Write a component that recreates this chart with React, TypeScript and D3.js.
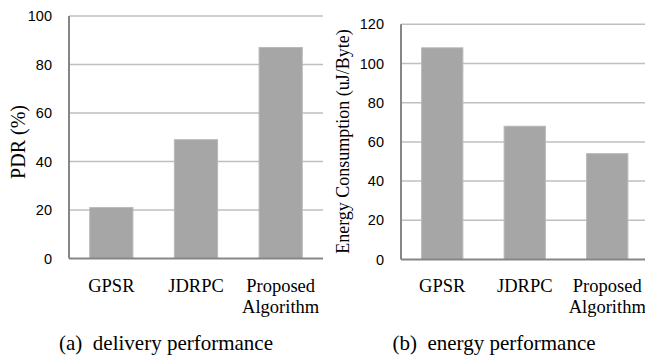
import React, { useEffect, useRef } from 'react';
import * as d3 from 'd3';

const categories = ['GPSR', 'JDRPC', 'Proposed Algorithm'];
const pdrValues = [21, 49, 87];
const energyValues = [108, 68, 54];
const pdrTicks = [0, 20, 40, 60, 80, 100];
const energyTicks = [0, 20, 40, 60, 80, 100, 120];

const W = 645;
const H = 361;

function drawPanel(svg, opts) {
  const { values, ticks, left, right, top, bottom, max, yLabel, labelX, caption, captionX, pad } = opts;

  const x = d3.scaleBand()
    .domain(categories)
    .range([left, right])
    .paddingInner(pad)
    .paddingOuter(pad / 2);

  const y = d3.scaleLinear().domain([0, max]).range([bottom, top]);

  const g = svg.append('g');

  // gridlines
  g.selectAll('line.grid')
    .data(ticks.filter(t => t > 0))
    .enter()
    .append('line')
    .attr('x1', left)
    .attr('x2', right)
    .attr('y1', d => y(d))
    .attr('y2', d => y(d))
    .attr('stroke', '#bfbfbf')
    .attr('stroke-width', 1.5);

  // bars
  g.selectAll('rect.bar')
    .data(values)
    .enter()
    .append('rect')
    .attr('x', (d, i) => x(categories[i]))
    .attr('y', d => y(d))
    .attr('width', x.bandwidth())
    .attr('height', d => bottom - y(d))
    .attr('fill', '#a6a6a6')
    .attr('stroke', '#b8b8b8')
    .attr('stroke-width', 1);

  // axes lines
  g.append('line')
    .attr('x1', left).attr('x2', left)
    .attr('y1', top).attr('y2', bottom)
    .attr('stroke', '#868686').attr('stroke-width', 2);
  g.append('line')
    .attr('x1', left).attr('x2', right)
    .attr('y1', bottom).attr('y2', bottom)
    .attr('stroke', '#868686').attr('stroke-width', 2);

  // tick labels
  g.selectAll('text.tick')
    .data(ticks)
    .enter()
    .append('text')
    .attr('x', left - 17)
    .attr('y', d => y(d))
    .attr('dy', '0.35em')
    .attr('text-anchor', 'end')
    .attr('font-family', '"Liberation Sans", Arial, sans-serif')
    .attr('font-size', 14.5)
    .attr('fill', '#000')
    .text(d => d);

  // category labels
  const cat = g.selectAll('text.cat')
    .data(categories)
    .enter()
    .append('text')
    .attr('text-anchor', 'middle')
    .attr('font-family', '"Liberation Serif", "Times New Roman", serif')
    .attr('font-size', 18.5)
    .attr('fill', '#000');
  cat.each(function (d) {
    const words = d.split(' ');
    const cx = x(d) + x.bandwidth() / 2;
    words.forEach((w, i) => {
      d3.select(this).append('tspan')
        .attr('x', cx)
        .attr('y', 292 + i * 21)
        .text(w);
    });
  });

  // y label
  const cy = (top + bottom) / 2;
  g.append('text')
    .attr('transform', `translate(${labelX},${opts.labelY ?? cy}) rotate(-90)`)
    .attr('text-anchor', 'middle')
    .attr('font-family', '"Liberation Serif", "Times New Roman", serif')
    .attr('font-size', opts.labelSize ?? 18)
    .attr('fill', '#000')
    .text(yLabel);

  // caption
  g.append('text')
    .attr('x', captionX)
    .attr('y', 350)
    .attr('text-anchor', 'middle')
    .attr('font-family', '"Liberation Serif", "Times New Roman", serif')
    .attr('font-size', 21)
    .attr('fill', '#000')
    .style('white-space', 'pre')
    .text(caption);
}

export default function App() {
  const ref = useRef(null);

  useEffect(() => {
    const svg = d3.select(ref.current);
    svg.selectAll('*').remove();

    drawPanel(svg, {
      values: pdrValues,
      ticks: pdrTicks,
      left: 69,
      right: 323,
      top: 16,
      bottom: 258.5,
      max: 100,
      pad: 0.49,
      yLabel: 'PDR (%)',
      labelX: 24.5,
      labelY: 142,
      labelSize: 20,
      caption: '(a)  delivery performance',
      captionX: 166,
    });

    drawPanel(svg, {
      values: energyValues,
      ticks: energyTicks,
      left: 401,
      right: 648.5,
      top: 24.3,
      bottom: 259.5,
      max: 120,
      pad: 0.5,
      yLabel: 'Energy Consumption (uJ/Byte)',
      labelX: 349,
      labelY: 141.5,
      caption: '(b)  energy performance',
      captionX: 494,
    });
  }, []);

  return (
    <svg
      ref={ref}
      width={W}
      height={H}
      style={{ position: 'absolute', left: 0, top: 0, background: '#fff' }}
    />
  );
}
